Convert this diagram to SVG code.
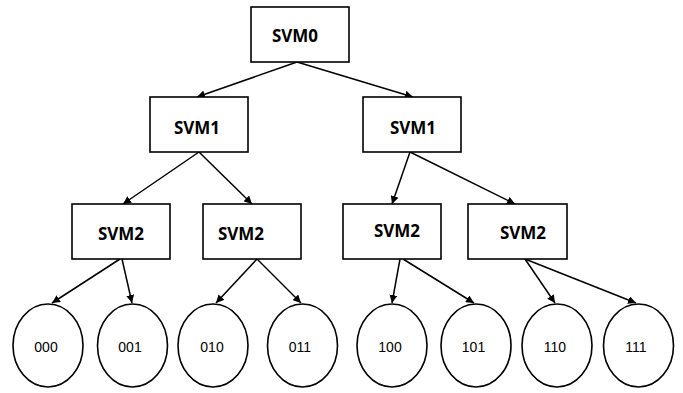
<svg xmlns="http://www.w3.org/2000/svg" width="683" height="393" viewBox="0 0 683 393">
  <defs>
    <marker id="arrow" viewBox="0 0 10 10" refX="10" refY="5" markerWidth="8" markerHeight="8" markerUnits="userSpaceOnUse" orient="auto">
      <path d="M0,0 L10,5 L0,10 z" fill="#000"/>
    </marker>
    <style>
      .box { fill: #fff; stroke: #000; stroke-width: 1.6; }
      .leaf { fill: #fff; stroke: #000; stroke-width: 1.6; }
      .svm { font-family: "Open Sans", "Noto Sans", sans-serif; font-weight: bold; font-size: 17px; fill: #000; text-anchor: middle; }
      .bits { font-family: "Liberation Sans", Arial, sans-serif; font-size: 14px; fill: #000; text-anchor: middle; }
      .edge { stroke: #000; stroke-width: 1.5; fill: none; marker-end: url(#arrow); }
    </style>
  </defs>
  <rect width="683" height="393" fill="#fff"/>

  <g id="connectors">
    <line class="edge" x1="297" y1="62" x2="197" y2="97"/>
    <line class="edge" x1="297" y1="62" x2="413" y2="97"/>
    <line class="edge" x1="199" y1="152" x2="123" y2="204"/>
    <line class="edge" x1="199" y1="152" x2="252" y2="204"/>
    <line class="edge" x1="410" y1="152" x2="392" y2="204"/>
    <line class="edge" x1="410" y1="152" x2="515" y2="204"/>
    <line class="edge" x1="120" y1="259" x2="52" y2="303"/>
    <line class="edge" x1="122" y1="259" x2="132" y2="303"/>
    <line class="edge" x1="257" y1="259" x2="216" y2="303"/>
    <line class="edge" x1="257" y1="259" x2="301" y2="303"/>
    <line class="edge" x1="400" y1="259" x2="392" y2="303"/>
    <line class="edge" x1="403" y1="259" x2="474" y2="303"/>
    <line class="edge" x1="525" y1="259" x2="555" y2="303"/>
    <line class="edge" x1="525" y1="259" x2="636" y2="303"/>
  </g>

  <g id="svm0">
    <rect class="box" x="251" y="7" width="98" height="55"/>
    <text class="svm" x="295" y="42">SVM0</text>
  </g>
  <g id="svm1-left">
    <rect class="box" x="150" y="97" width="98" height="55"/>
    <text class="svm" x="197" y="134">SVM1</text>
  </g>
  <g id="svm1-right">
    <rect class="box" x="363" y="97" width="98" height="55"/>
    <text class="svm" x="413" y="134">SVM1</text>
  </g>
  <g id="svm2-a">
    <rect class="box" x="72" y="204" width="98" height="55"/>
    <text class="svm" x="121" y="240">SVM2</text>
  </g>
  <g id="svm2-b">
    <rect class="box" x="203" y="204" width="98" height="55"/>
    <text class="svm" x="241" y="240">SVM2</text>
  </g>
  <g id="svm2-c">
    <rect class="box" x="343" y="204" width="98" height="55"/>
    <text class="svm" x="397" y="237">SVM2</text>
  </g>
  <g id="svm2-d">
    <rect class="box" x="468" y="204" width="99" height="55"/>
    <text class="svm" x="523" y="239">SVM2</text>
  </g>

  <g id="leaf-000">
    <ellipse class="leaf" cx="48" cy="345.5" rx="35" ry="41.5"/>
    <text class="bits" x="46" y="352">000</text>
  </g>
  <g id="leaf-001">
    <ellipse class="leaf" cx="132.5" cy="345.5" rx="35" ry="41.5"/>
    <text class="bits" x="130" y="352">001</text>
  </g>
  <g id="leaf-010">
    <ellipse class="leaf" cx="213" cy="345.5" rx="35" ry="41.5"/>
    <text class="bits" x="212" y="352">010</text>
  </g>
  <g id="leaf-011">
    <ellipse class="leaf" cx="302.5" cy="345.5" rx="35" ry="41.5"/>
    <text class="bits" x="300" y="352">011</text>
  </g>
  <g id="leaf-100">
    <ellipse class="leaf" cx="392" cy="345.5" rx="35" ry="41.5"/>
    <text class="bits" x="390" y="352">100</text>
  </g>
  <g id="leaf-101">
    <ellipse class="leaf" cx="476" cy="345.5" rx="35" ry="41.5"/>
    <text class="bits" x="473.5" y="352">101</text>
  </g>
  <g id="leaf-110">
    <ellipse class="leaf" cx="557" cy="345.5" rx="35" ry="41.5"/>
    <text class="bits" x="555" y="352">110</text>
  </g>
  <g id="leaf-111">
    <ellipse class="leaf" cx="638.5" cy="345.5" rx="35" ry="41.5"/>
    <text class="bits" x="636" y="352">111</text>
  </g>
</svg>
